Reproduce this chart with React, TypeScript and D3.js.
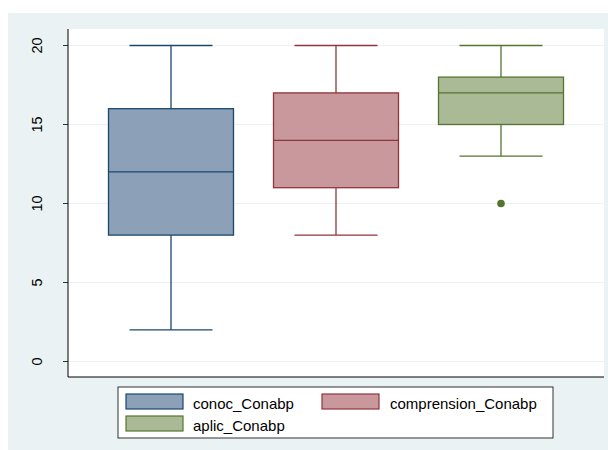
import React from "react";
import * as d3 from "d3";

const seriesNames = ["conoc_Conabp", "comprension_Conabp", "aplic_Conabp"];
const mins = [2, 8, 13];
const q1s = [8, 11, 15];
const medians = [12, 14, 17];
const q3s = [16, 17, 18];
const maxs = [20, 20, 20];
const outliers: number[][] = [[], [], [10]];
const yTicks = [0, 5, 10, 15, 20];
const strokeColors = ["#1a476f", "#90353b", "#55752f"];
const fillColors = ["#8ca1b7", "#c8989c", "#aab996"];

const W = 608;
const H = 450;
const plotL = 68;
const plotR = 604;
const plotT = 29;
const plotB = 377;

export default function App() {
  const y = d3.scaleLinear().domain([0, 20]).range([361.5, 45.5]);
  const x = d3.scaleBand<number>().domain([0, 1, 2]).range([plotL + 0.5, plotR - 0.5]).paddingInner(0.2424).paddingOuter(0.2424);
  const bw = x.bandwidth();
  const capW = bw * 0.664;
  const font = "'Liberation Sans', Arial, Helvetica, sans-serif";

  const legendItems = [
    { i: 0, kx: 126, ky: 394, tx: 193, ty: 409 },
    { i: 1, kx: 322, ky: 394, tx: 390, ty: 409 },
    { i: 2, kx: 126, ky: 416, tx: 193, ty: 431 },
  ];

  return (
    <svg width={W} height={H} style={{ position: "absolute", left: 0, top: 0, fontFamily: font }}>
      <rect x={8} y={13} width={W - 8} height={H - 13} fill="#eaf2f3" />
      <rect x={plotL} y={plotT} width={plotR - plotL} height={plotB - plotT} fill="#ffffff" />
      {yTicks.map((t) => (
        <g key={t}>
          <line x1={plotL} x2={plotR} y1={y(t)} y2={y(t)} stroke="#eaf2f3" strokeWidth={1.2} />
          <line x1={63} x2={plotL} y1={y(t)} y2={y(t)} stroke="#000" strokeWidth={0.8} />
          <text
            transform={`translate(42,${y(t)}) rotate(-90)`}
            textAnchor="middle"
            fontSize={14.5}
            fill="#000"
          >
            {t}
          </text>
        </g>
      ))}
      <line x1={plotL} x2={plotL} y1={plotT} y2={plotB} stroke="#000" strokeWidth={1} />
      <line x1={plotL} x2={plotR} y1={plotB} y2={plotB} stroke="#000" strokeWidth={1} />
      {seriesNames.map((name, i) => {
        const x0 = x(i) as number;
        const cx = x0 + bw / 2;
        const sc = strokeColors[i];
        return (
          <g key={name}>
            <line x1={cx} x2={cx} y1={y(maxs[i])} y2={y(q3s[i])} stroke={sc} strokeWidth={1.3} />
            <line x1={cx} x2={cx} y1={y(q1s[i])} y2={y(mins[i])} stroke={sc} strokeWidth={1.3} />
            <line x1={cx - capW / 2} x2={cx + capW / 2} y1={y(maxs[i])} y2={y(maxs[i])} stroke={sc} strokeWidth={1.3} />
            <line x1={cx - capW / 2} x2={cx + capW / 2} y1={y(mins[i])} y2={y(mins[i])} stroke={sc} strokeWidth={1.3} />
            <rect
              x={x0}
              y={y(q3s[i])}
              width={bw}
              height={y(q1s[i]) - y(q3s[i])}
              fill={fillColors[i]}
              stroke={sc}
              strokeWidth={1.3}
            />
            <line x1={x0} x2={x0 + bw} y1={y(medians[i])} y2={y(medians[i])} stroke={sc} strokeWidth={1.3} />
            {outliers[i].map((o, k) => (
              <circle key={k} cx={cx} cy={y(o)} r={3.8} fill={sc} />
            ))}
          </g>
        );
      })}
      <rect x={118} y={387} width={435} height={51} fill="#ffffff" stroke="#000" strokeWidth={0.8} />
      {legendItems.map((it) => (
        <g key={it.i}>
          <rect
            x={it.kx}
            y={it.ky}
            width={57}
            height={15}
            fill={fillColors[it.i]}
            stroke={strokeColors[it.i]}
            strokeWidth={1.2}
          />
          <text x={it.tx} y={it.ty} fontSize={15} fill="#000">
            {seriesNames[it.i]}
          </text>
        </g>
      ))}
    </svg>
  );
}
